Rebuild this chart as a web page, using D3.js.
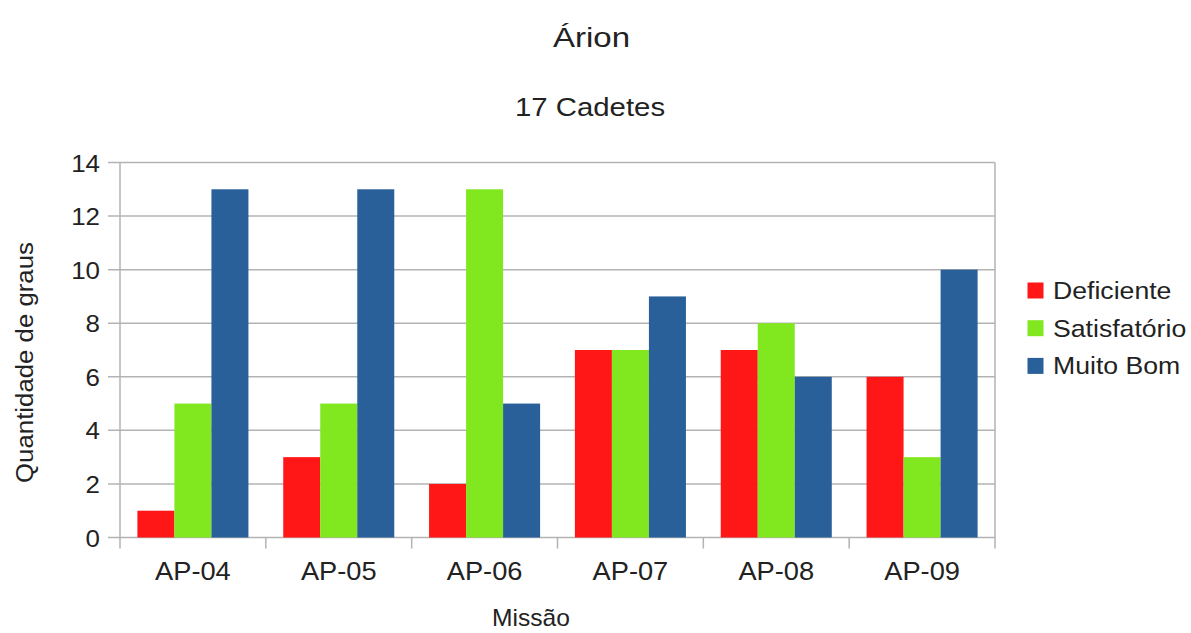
<!DOCTYPE html>
<html>
<head>
<meta charset="utf-8">
<script src="https://cdn.jsdelivr.net/npm/d3@7.9.0/dist/d3.min.js"></script>
<style>
  body { margin: 0; background: #fff; }
  text { font-family: "Liberation Sans", Arial, sans-serif; fill: #222; }
</style>
</head>
<body>
<div id="chart"></div>
<script>
const categories = ['AP-04', 'AP-05', 'AP-06', 'AP-07', 'AP-08', 'AP-09'];
const seriesNames = ['Deficiente', 'Satisfatório', 'Muito Bom'];
const deficiente = [1, 3, 2, 7, 7, 6];
const satisfatorio = [5, 5, 13, 7, 8, 3];
const muitoBom = [13, 13, 5, 9, 6, 10];
const colors = ['#ff1717', '#81e81f', '#2a6099'];
const yTicks = [0, 2, 4, 6, 8, 10, 12, 14];

const width = 1191, height = 633;
const margin = { top: 162.5, right: 196, bottom: 96, left: 120 };
const innerW = width - margin.left - margin.right;
const innerH = 537.5 - margin.top;

const svg = d3.select('#chart').append('svg')
    .attr('width', width)
    .attr('height', height);

// helper: text that is a bit wider than the font, like the original render
function addText(parent, x, y, str, size, sx, anchor) {
    return parent.append('text')
        .attr('transform', `translate(${x},${y}) scale(${sx},1)`)
        .attr('text-anchor', anchor || 'middle')
        .style('font-size', size + 'px')
        .text(str);
}

// titles
addText(svg, 591.5, 46.5, 'Árion', 28, 1.18);
addText(svg, 590, 115.5, '17 Cadetes', 26, 1.13);

const g = svg.append('g')
    .attr('transform', `translate(${margin.left},${margin.top})`);

const x = d3.scaleBand()
    .domain(categories)
    .range([0, innerW]);

const x1 = d3.scaleBand()
    .domain(seriesNames)
    .range([0, x.bandwidth()])
    .paddingInner(0)
    .paddingOuter(0.47);

const y = d3.scaleLinear()
    .domain([0, 14])
    .range([innerH, 0]);

// grid lines
g.selectAll('.grid')
    .data(yTicks)
    .enter()
    .append('line')
    .attr('x1', -12)
    .attr('x2', innerW)
    .attr('y1', d => y(d))
    .attr('y2', d => y(d))
    .attr('stroke', '#b3b3b3')
    .attr('stroke-width', 1.5);

// left and right borders
g.append('line')
    .attr('x1', 0).attr('x2', 0)
    .attr('y1', 0).attr('y2', innerH + 11)
    .attr('stroke', '#b3b3b3').attr('stroke-width', 1.5);
g.append('line')
    .attr('x1', innerW).attr('x2', innerW)
    .attr('y1', 0).attr('y2', innerH + 11)
    .attr('stroke', '#b3b3b3').attr('stroke-width', 1.5);

// category ticks
g.selectAll('.xtick')
    .data(categories.slice(1))
    .enter()
    .append('line')
    .attr('x1', d => x(d)).attr('x2', d => x(d))
    .attr('y1', innerH).attr('y2', innerH + 11)
    .attr('stroke', '#b3b3b3').attr('stroke-width', 1.5);

// bars
const values = [deficiente, satisfatorio, muitoBom];
const groups = g.selectAll('.group')
    .data(categories)
    .enter()
    .append('g')
    .attr('transform', d => `translate(${x(d)},0)`);

groups.selectAll('rect')
    .data((d, i) => seriesNames.map((s, j) => ({ s, v: values[j][i], c: colors[j] })))
    .enter()
    .append('rect')
    .attr('x', d => x1(d.s))
    .attr('y', d => y(d.v))
    .attr('width', x1.bandwidth())
    .attr('height', d => innerH - y(d.v))
    .attr('fill', d => d.c);

// y tick labels
yTicks.forEach(d => addText(g, -20, y(d) + 9, d, 24, 1.08, 'end'));

// x tick labels
categories.forEach(d => addText(g, x(d) + x.bandwidth() / 2, innerH + 42.5, d, 25, 1.09));

// axis titles
addText(svg, 531, 626, 'Missão', 23, 1.07);

svg.append('text')
    .attr('transform', 'translate(33,362.5) rotate(-90) scale(1.075,1)')
    .attr('text-anchor', 'middle')
    .style('font-size', '24px')
    .text('Quantidade de graus');

// legend
const legend = svg.append('g')
    .attr('transform', 'translate(1027.5,282.5)');

seriesNames.forEach((s, i) => {
    legend.append('rect')
        .attr('x', 0).attr('y', i * 37.7)
        .attr('width', 16).attr('height', 16)
        .attr('fill', colors[i]);
    addText(legend, 25.5, i * 37.7 + 16.5, s, 24, 1.11, 'start');
});
</script>
</body>
</html>
